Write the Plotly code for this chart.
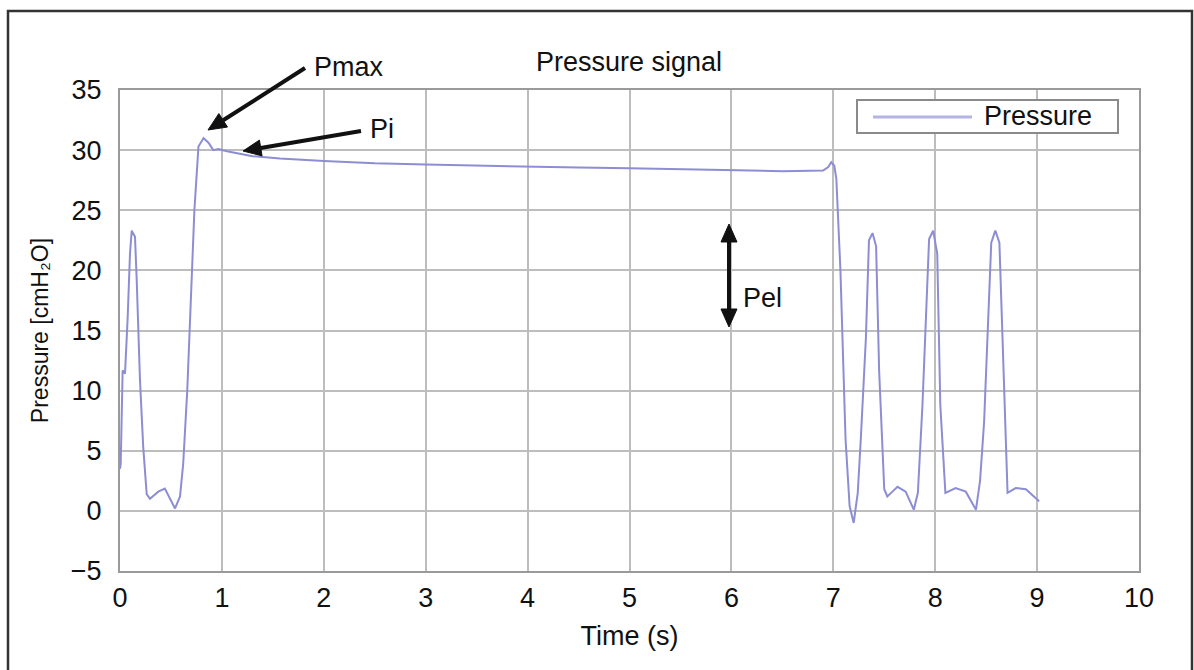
import math
import plotly.graph_objects as go

# ---- data ----
time_s = [0.0, 0.007, 0.026, 0.049, 0.075, 0.098, 0.115, 0.147, 0.164, 0.196, 0.228, 0.262, 0.294,
          0.376, 0.44, 0.49, 0.54, 0.589, 0.62, 0.66, 0.70, 0.73, 0.77, 0.82, 0.87, 0.915, 0.965,
          1.05, 1.3, 1.57, 2.0, 2.5, 3.0, 3.5, 4.0, 4.5, 5.0, 5.5, 6.0, 6.5, 6.9, 6.95, 6.98,
          7.01, 7.03, 7.07, 7.12, 7.16, 7.2, 7.24, 7.27, 7.32, 7.35, 7.385, 7.42, 7.45, 7.5,
          7.53, 7.58, 7.63, 7.71, 7.79, 7.83, 7.875, 7.94, 7.98, 8.02, 8.05, 8.1, 8.2, 8.3,
          8.4, 8.44, 8.48, 8.55, 8.59, 8.63, 8.67, 8.71, 8.79, 8.89, 9.02]
pressure = [3.5, 3.9, 11.7, 11.4, 16.0, 21.4, 23.3, 22.8, 19.2, 10.9, 5.3, 1.4, 1.0,
            1.6, 1.85, 1.0, 0.2, 1.2, 3.9, 10.0, 17.8, 25.0, 30.3, 31.0, 30.6, 30.0, 30.1,
            29.9, 29.5, 29.3, 29.1, 28.9, 28.8, 28.7, 28.6, 28.55, 28.5, 28.4, 28.3, 28.25, 28.3, 28.6, 29.0,
            28.7, 27.6, 20.0, 6.0, 0.4, -1.0, 1.5, 6.0, 14.4, 22.5, 23.1, 22.0, 11.6, 1.8,
            1.2, 1.6, 2.0, 1.6, 0.1, 1.5, 8.8, 22.6, 23.3, 21.4, 8.8, 1.5, 1.9, 1.6,
            0.1, 2.5, 7.4, 22.3, 23.3, 22.3, 11.6, 1.5, 1.9, 1.8, 0.8]

x_ticks = [0, 1, 2, 3, 4, 5, 6, 7, 8, 9, 10]
y_ticks = [-5, 0, 5, 10, 15, 20, 25, 30, 35]
x_range = [0, 10]
y_range = [-5, 35]

title_text = "Pressure signal"
x_title = "Time (s)"
y_title = "Pressure [cmH\u2082O]"
series_name = "Pressure"
label_pmax = "Pmax"
label_pi = "Pi"
label_pel = "Pel"

# ---- layout geometry ----
W, H = 1194, 670
ML, MR, MT, MB = 120, 55, 90, 99
PW, PH = W - ML - MR, H - MT - MB
FONT = "Liberation Sans, Arial, sans-serif"
FS = 27
TXT = "#111111"
LINE_COLOR = "#8d8dd4"


def px(xp):
    return (xp - ML) / PW


def py(yp):
    return (H - MB - yp) / PH


fig = go.Figure()
fig.add_trace(go.Scatter(x=time_s, y=pressure, mode="lines", name=series_name,
                         line=dict(color=LINE_COLOR, width=2), showlegend=False))

fig.update_layout(
    width=W, height=H,
    margin=dict(l=ML, r=MR, t=MT, b=MB),
    paper_bgcolor="white", plot_bgcolor="white",
    font=dict(family=FONT, size=FS, color=TXT),
    title=dict(text=title_text, x=629 / W, xanchor="center",
               y=1 - 62 / H, yanchor="middle", font=dict(size=FS, color=TXT)),
)
fig.update_xaxes(range=x_range, tickvals=x_ticks, ticktext=[str(v) for v in x_ticks],
                 showgrid=True, gridcolor="#bdbdbd", gridwidth=1.5,
                 showline=True, linecolor="#9a9a9a", linewidth=2, mirror=True,
                 zeroline=False, ticks="", ticklen=0, ticklabelstandoff=2,
                 tickfont=dict(size=FS, color=TXT),
                 title=dict(text=x_title, font=dict(size=FS, color=TXT), standoff=14))
fig.update_yaxes(range=y_range, tickvals=y_ticks,
                 ticktext=[("\u2212" + str(-v)) if v < 0 else str(v) for v in y_ticks],
                 showgrid=True, gridcolor="#bdbdbd", gridwidth=1.5,
                 showline=True, linecolor="#9a9a9a", linewidth=2, mirror=True,
                 zeroline=False, ticks="", ticklen=0, ticklabelstandoff=11,
                 tickfont=dict(size=FS, color=TXT),
                 title=dict(text=y_title, font=dict(size=23, color=TXT), standoff=16))

# outer frame of the figure
fig.add_shape(type="rect", xref="paper", yref="paper",
              x0=px(8), x1=px(1192), y0=py(690), y1=py(11),
              line=dict(color="#333333", width=2.5), fillcolor="rgba(0,0,0,0)", layer="above")

# legend (drawn by hand to match the long sample line)
fig.add_shape(type="rect", xref="paper", yref="paper",
              x0=px(857), x1=px(1118), y0=py(133), y1=py(100),
              line=dict(color="#8a8a8a", width=2), fillcolor="white", layer="above")
fig.add_shape(type="line", xref="paper", yref="paper",
              x0=px(873), x1=px(972), y0=py(117), y1=py(117),
              line=dict(color="#b4b4e4", width=3), layer="above")
fig.add_annotation(xref="paper", yref="paper", x=px(982), y=py(116), text=series_name,
                   showarrow=False, xanchor="left", yanchor="middle",
                   font=dict(size=FS, color=TXT))


def arrow(x0, y0, x1, y1, color="#111111", width=4, head_len=18, head_half=8, both=False):
    """Arrow drawn with shapes, from pixel (x0, y0) to the tip at pixel (x1, y1)."""
    dx, dy = x1 - x0, y1 - y0
    L = math.hypot(dx, dy)
    ux, uy = dx / L, dy / L
    nx, ny = -uy, ux
    sx0, sy0 = (x0 + ux * head_len, y0 + uy * head_len) if both else (x0, y0)
    sx1, sy1 = x1 - ux * head_len, y1 - uy * head_len
    fig.add_shape(type="line", xref="paper", yref="paper",
                  x0=px(sx0), y0=py(sy0), x1=px(sx1), y1=py(sy1),
                  line=dict(color=color, width=width), layer="above")
    tips = [(x1, y1, ux, uy)]
    if both:
        tips.append((x0, y0, -ux, -uy))
    for tx, ty, vx, vy in tips:
        bx, by = tx - vx * head_len, ty - vy * head_len
        pts = [(tx, ty), (bx + nx * head_half, by + ny * head_half),
               (bx - nx * head_half, by - ny * head_half)]
        path = "M {:.5f} {:.5f} L {:.5f} {:.5f} L {:.5f} {:.5f} Z".format(
            px(pts[0][0]), py(pts[0][1]), px(pts[1][0]), py(pts[1][1]),
            px(pts[2][0]), py(pts[2][1]))
        fig.add_shape(type="path", xref="paper", yref="paper", path=path,
                      fillcolor=color, line=dict(color=color, width=1), layer="above")


# Pmax arrow + label
arrow(305, 68, 208, 130)
fig.add_annotation(xref="paper", yref="paper", x=px(312), y=py(67), text=label_pmax,
                   showarrow=False, xanchor="left", yanchor="middle", font=dict(size=FS, color=TXT))
# Pi arrow + label
arrow(361, 131, 243, 151)
fig.add_annotation(xref="paper", yref="paper", x=px(368), y=py(129), text=label_pi,
                   showarrow=False, xanchor="left", yanchor="middle", font=dict(size=FS, color=TXT))
# Pel double arrow + label
arrow(729, 224, 729, 327, both=True)
fig.add_annotation(xref="paper", yref="paper", x=px(741), y=py(298), text=label_pel,
                   showarrow=False, xanchor="left", yanchor="middle", font=dict(size=FS, color=TXT))

fig.write_html("out.html")
